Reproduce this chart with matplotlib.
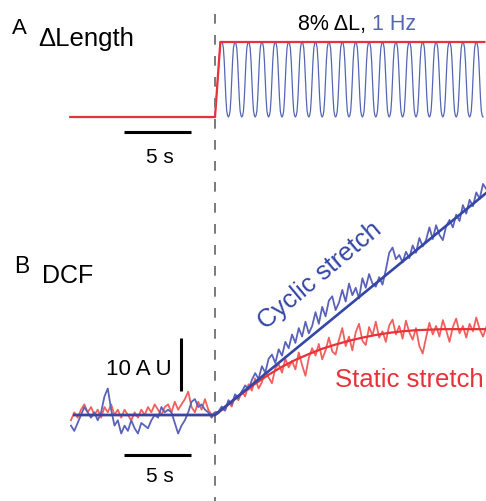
import numpy as np
import matplotlib
matplotlib.use("Agg")
import matplotlib.pyplot as plt

plt.rcParams['font.family'] = ['Liberation Sans', 'DejaVu Sans']

W, H = 486, 502

# ---- Panel A: imposed length change (% of initial length) ----
static_len_t = [-10.8, 0.0, 0.4, 20.1]
static_len_v = [0.0, 0.0, 8.0, 8.0]
stretch_amp = 8.0          # % ΔL
stretch_freq = 1.0         # Hz
stretch_start = 0.5        # first peak of the cyclic stretch (s)
stretch_end = 20.0         # end of the cyclic record (s)
# one stretch cycle, starting at the peak (fraction of amplitude)
cycle_shape = [1.0, 0.98, 0.92, 0.75, 0.5, 0.25, 0.08, 0.02,
               0.0, 0.02, 0.08, 0.25, 0.5, 0.75, 0.92, 0.98]
cyc_lead_t = [-10.8, 0.0, 0.4]
cyc_lead_v = [0.0, 0.0, 8.0]

# ---- Panel B: DCF fluorescence (arbitrary units), sampled every 0.25 s ----
trace_t0, trace_dt = -10.75, 0.25
cyclic_dcf = [
    -2.0, -3.0, -1.5, 0.0, 1.5, 0.5, -0.5, 0.5, -1.0, 0.5, 3.5, 5.0, 1.0, -2.0,
    -1.0, -3.5, -2.0, -3.0, -1.0, -2.5, -3.5, -1.5, -2.0, -2.5, -1.0, 0.0, -0.5,
    1.5, 0.5, 1.0, 0.5, -1.5, -3.5, -2.0, -1.0, 0.5, 2.5, 3.0, 1.5, 2.0, 1.0,
    0.5, -0.5, 0.5,
    0.6, 1.6, 0.9, 2.8, 2.0, 3.9, 3.2, 4.4, 5.6, 4.8, 6.6, 7.9, 6.8, 9.2, 8.0,
    10.6, 11.4, 9.8, 12.4, 11.2, 13.8, 12.6, 15.2, 13.6, 16.4, 14.8, 17.6,
    15.4, 16.8, 19.4, 17.2, 20.4, 18.6, 21.6, 22.4, 19.8, 21.2, 23.6, 21.4,
    24.8, 22.6, 24.0, 22.0, 25.8, 24.0, 26.6, 24.8, 24.2, 26.0, 24.6, 27.4,
    30.6, 31.6, 29.4, 30.2, 28.8, 30.8, 29.6, 32.0, 30.6, 33.4, 31.8, 33.0,
    35.4, 33.2, 35.8, 34.0, 33.0, 35.6, 36.8, 35.4, 37.8, 36.6, 39.6, 38.0,
    40.6, 39.4, 42.0, 40.8, 43.6, 42.6,
]
static_dcf = [
    -1.0, 0.5, -0.5, 1.0, 2.0, 0.5, 1.5, 0.0, 1.0, -0.5, 1.5, 0.5, 2.0, 0.0,
    1.0, -0.5, 1.0, 0.0, -1.0, 0.5, -0.5, 1.0, 0.0, 1.5, 0.5, 2.0, 1.0, 0.0,
    1.5, 2.0, 0.5, 2.5, 1.0, 2.0, 3.0, 4.4, 1.5, 0.5, 2.5, 1.0, 3.0, 1.0, 0.0,
    0.5,
    0.3, 1.2, 0.8, 2.4, 1.6, 3.6, 2.8, 4.5, 3.5, 5.8, 4.6, 6.9, 5.0, 6.2, 8.3,
    7.1, 6.0, 8.8, 9.6, 8.0, 10.6, 9.0, 10.2, 8.6, 11.8, 9.4, 7.4, 10.8, 12.6,
    11.2, 13.4, 10.5, 12.2, 14.6, 12.0, 11.4, 14.2, 16.4, 13.0, 14.8, 12.2,
    15.6, 17.2, 14.0, 13.2, 16.6, 15.0, 17.6, 14.6, 15.8, 13.8, 16.9, 18.0,
    15.2, 16.8, 14.4, 17.8, 15.6, 14.2, 16.4, 13.0, 11.6, 14.6, 17.4, 15.2,
    16.8, 14.8, 17.9, 16.0, 13.8, 16.6, 18.2, 15.4, 16.8, 14.6, 17.2, 15.8,
    18.4, 16.2, 14.8, 16.6,
]
cyclic_fit_t = [-10.5, 0.0, 20.25]
cyclic_fit_v = [0.0, 0.0, 41.9]
static_fit_t = [-10.5, 0, 1, 2, 3, 4, 5, 6, 7, 8, 9, 10, 11, 12, 13, 14, 15,
                16, 17, 18, 19, 20.25]
static_fit_v = [0.0, 0.0, 2.0, 4.0, 5.9, 7.6, 9.1, 10.4, 11.5, 12.5, 13.3,
                14.0, 14.6, 15.1, 15.5, 15.8, 16.0, 16.1, 16.2, 16.2, 16.2,
                16.2]

# colours
RED = '#e8323a'
RED_RAW = '#f0605e'
BLUE = '#3446a6'
BLUE_RAW = '#5a63b9'
BLUE_A = '#5566b4'

# scale: 13.4 px per second, onset of stretch at x = 215 px
PX_PER_S = 13.4
X0 = 215
xlim = (-X0 / PX_PER_S, (W - X0) / PX_PER_S)


def fig_xy(x, y):
    return x / W, 1 - y / H


fig = plt.figure(figsize=(W / 100, H / 100), dpi=100)

# Panel A axes: baseline at y=118 px, 8 % at y=43 px
axA = fig.add_axes([0, 0, 1, 1])
a_scale = (118 - 43) / 8.0
axA.set_xlim(*xlim)
axA.set_ylim(-(H - 118) / a_scale, 118 / a_scale)
axA.axis('off')
axA.patch.set_alpha(0)

# Panel B axes: baseline at y=416 px, 5.3 px per AU
axB = fig.add_axes([0, 0, 1, 1])
b_scale = 5.3
axB.set_xlim(*xlim)
axB.set_ylim(-(H - 416) / b_scale, 416 / b_scale)
axB.axis('off')
axB.patch.set_alpha(0)

# --- cyclic length trace built from the cycle template ---
n_cyc = int(np.ceil((stretch_end - stretch_start) * stretch_freq))
shape = np.tile(cycle_shape, n_cyc)
t_cyc = stretch_start + np.arange(len(shape)) / (len(cycle_shape) * stretch_freq)
keep = t_cyc <= stretch_end + 1e-9
t_cyc = np.concatenate([cyc_lead_t, t_cyc[keep]])
v_cyc = np.concatenate([cyc_lead_v, stretch_amp * shape[keep]])
axA.plot(t_cyc, v_cyc, color=BLUE_A, lw=0.9, solid_joinstyle='round', zorder=2)
axA.plot(static_len_t, static_len_v, color=RED, lw=1.6, zorder=3)
axA.plot(cyc_lead_t[:2], cyc_lead_v[:2], color=BLUE_A, lw=0.8, alpha=0.8,
         zorder=4)

# panel A time bar
axA.plot([-6.8, -1.8], [-1.6, -1.6], color='black', lw=2.2,
         solid_capstyle='butt')

# --- Panel B traces ---
t_cyc_tr = trace_t0 + trace_dt * np.arange(len(cyclic_dcf))
t_sta_tr = trace_t0 + trace_dt * np.arange(len(static_dcf))
axB.plot(t_sta_tr, static_dcf, color=RED_RAW, lw=1.3, zorder=2)
axB.plot(t_cyc_tr, cyclic_dcf, color=BLUE_RAW, lw=1.3, zorder=3)
axB.plot(static_fit_t, static_fit_v, color=RED, lw=1.6, zorder=4)
axB.plot(cyclic_fit_t, cyclic_fit_v, color=BLUE, lw=1.9, zorder=5)

# scale bars in panel B
axB.plot([-6.8, -1.8], [-7.6, -7.6], color='black', lw=2.2,
         solid_capstyle='butt')
axB.plot([-2.54, -2.54], [4.5, 14.5], color='black', lw=2.2,
         solid_capstyle='butt')

# stimulus onset marker across both panels
axB.plot([0, 0], [(416 - 15) / b_scale, -(H - 416) / b_scale],
         color='#7a7a7a', lw=1.4, linestyle=(0, (5.0, 5.8)), zorder=1)

# --- text ---
fig.text(*fig_xy(12, 34), 'A', fontsize=16, va='baseline', ha='left')
fig.text(*fig_xy(38, 46), 'ΔLength', fontsize=18.5, va='baseline', ha='left')
fig.text(*fig_xy(14, 273), 'B', fontsize=16.5, va='baseline', ha='left')
fig.text(*fig_xy(42, 283), 'DCF', fontsize=18, va='baseline', ha='left')

t1 = fig.text(*fig_xy(298, 30), '8% ΔL, ', fontsize=15.5, va='baseline',
              ha='left')
fig.canvas.draw()
bb = t1.get_window_extent()
fig.text(bb.x1 / W, 1 - 30 / H, '1 Hz', fontsize=15.5, va='baseline',
         ha='left', color=BLUE_A)

fig.text(*fig_xy(160, 163), '5 s', fontsize=15, va='baseline', ha='center')
fig.text(*fig_xy(160, 482), '5 s', fontsize=15, va='baseline', ha='center')
fig.text(*fig_xy(172, 375), '10 A U', fontsize=16, va='baseline',
         ha='right')

fig.text(*fig_xy(266, 330), 'Cyclic stretch', fontsize=18.5, color=BLUE,
         rotation=40, rotation_mode='anchor', va='baseline', ha='left')
fig.text(*fig_xy(335, 387), 'Static stretch', fontsize=18.5, color=RED,
         va='baseline', ha='left')

fig.savefig('out.png', dpi=100)
